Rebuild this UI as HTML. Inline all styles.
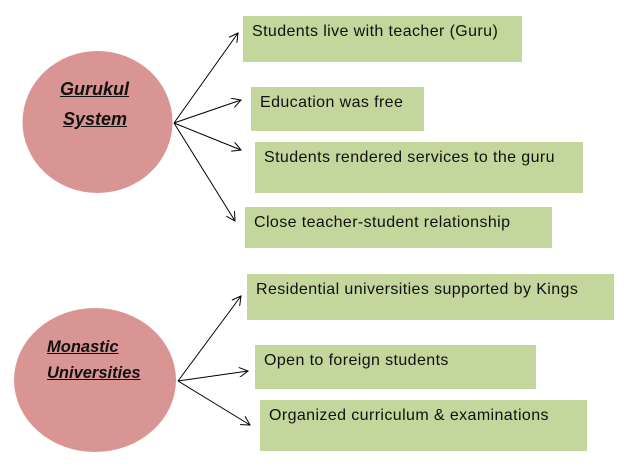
<!DOCTYPE html>
<html><head><style>
body{margin:0;width:628px;height:470px;background:#fff;position:relative;overflow:hidden;font-family:"Liberation Sans",sans-serif}
.b{position:absolute;background:#c3d69b;font-size:16px;letter-spacing:0.4px;color:#111;box-sizing:border-box;padding:7px 9px;white-space:nowrap}
.t{position:absolute;font-weight:bold;font-style:italic;text-decoration:underline;font-size:18px;color:#111}
</style></head><body>
<svg width="628" height="470" style="position:absolute;left:0;top:0">
<defs><marker id="a" markerWidth="10" markerHeight="10" refX="9" refY="5" orient="auto" markerUnits="userSpaceOnUse"><path d="M0,0 L9,5 L0,10" fill="none" stroke="#000" stroke-width="1"/></marker></defs>
<ellipse cx="97.5" cy="122" rx="75" ry="71" fill="#d99594"/>
<ellipse cx="95" cy="380" rx="81" ry="72" fill="#d99594"/>
<g stroke="#000" stroke-width="1" marker-end="url(#a)">
<line x1="174" y1="123" x2="238" y2="33"/>
<line x1="174" y1="123" x2="241" y2="100"/>
<line x1="174" y1="123" x2="241" y2="150"/>
<line x1="174" y1="123" x2="235" y2="221"/>
<line x1="178" y1="381" x2="241" y2="296"/>
<line x1="178" y1="381" x2="248" y2="371"/>
<line x1="178" y1="381" x2="250" y2="425"/>
</g>
</svg>
<div class="t" style="left:60px;top:79px">Gurukul</div>
<div class="t" style="left:63px;top:109px">System</div>
<div class="t" style="left:47px;top:338px;font-size:16.5px">Monastic</div>
<div class="t" style="left:47px;top:364px;font-size:16.5px">Universities</div>
<div class="b" style="left:243px;top:16px;width:279px;height:46px">Students live with teacher (Guru)</div>
<div class="b" style="left:251px;top:87px;width:173px;height:44px">Education was free</div>
<div class="b" style="left:255px;top:142px;width:328px;height:51px">Students rendered services to the guru</div>
<div class="b" style="left:245px;top:207px;width:307px;height:41px">Close teacher-student relationship</div>
<div class="b" style="left:247px;top:274px;width:367px;height:46px">Residential universities supported by Kings</div>
<div class="b" style="left:255px;top:345px;width:281px;height:44px">Open to foreign students</div>
<div class="b" style="left:260px;top:400px;width:327px;height:51px">Organized curriculum &amp; examinations</div>
</body></html>
